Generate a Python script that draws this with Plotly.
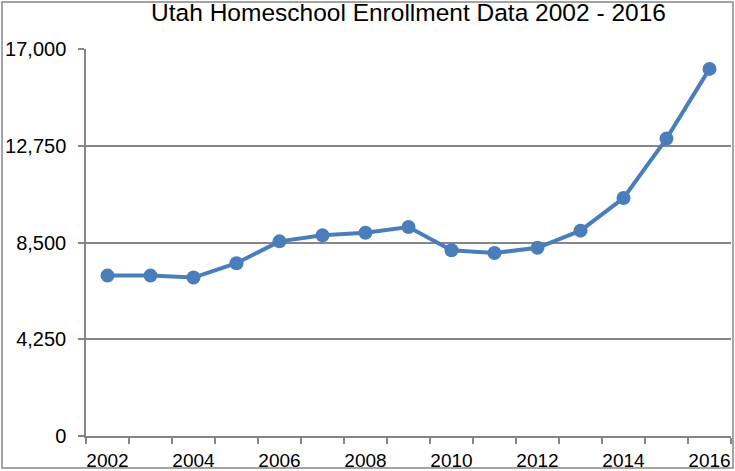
import plotly.graph_objects as go

# Utah homeschool enrollment
years = [2002, 2003, 2004, 2005, 2006, 2007, 2008, 2009,
         2010, 2011, 2012, 2013, 2014, 2015, 2016]
enrollment = [7046, 7046, 6960, 7590, 8550, 8815, 8930, 9180,
              8160, 8040, 8265, 9020, 10455, 13065, 16125]

year_ticks = [2002, 2004, 2006, 2008, 2010, 2012, 2014, 2016]
y_ticks = [0, 4250, 8500, 12750, 17000]

blue = "#4a7ebb"
grey = "#868686"

fig = go.Figure()
fig.add_trace(go.Scatter(
    x=years, y=enrollment,
    mode="lines+markers",
    line=dict(color=blue, width=4),
    marker=dict(color=blue, size=14),
    showlegend=False,
))

fig.update_layout(
    width=735, height=471,
    margin=dict(l=86, r=4, t=49, b=35, autoexpand=False),
    paper_bgcolor="white",
    plot_bgcolor="white",
    font=dict(family="Liberation Sans, Arial", size=18, color="black"),
    title=dict(
        text="Utah Homeschool Enrollment Data 2002 - 2016",
        font=dict(size=24.5, color="black"),
        x=0.5, xref="paper", xanchor="center",
        y=0.973, yref="container", yanchor="middle",
    ),
    xaxis=dict(
        range=[2001.5, 2016.5],
        tickvals=year_ticks,
        ticks="",
        showgrid=False,
        showline=True, linecolor=grey, linewidth=1.5,
        zeroline=False,
        automargin=False,
        minor=dict(ticks="outside", tick0=2001.5, dtick=1,
                   ticklen=6, tickcolor=grey, tickwidth=1.5,
                   showgrid=False),
        tickfont=dict(size=19),
        ticklabelstandoff=6,
    ),
    yaxis=dict(
        range=[0, 17000],
        tickvals=y_ticks,
        tickformat=",",
        ticks="outside", ticklen=6, tickcolor=grey, tickwidth=1.5,
        showgrid=True, gridcolor=grey, gridwidth=1.5,
        showline=True, linecolor=grey, linewidth=1.5,
        zeroline=False,
        automargin=False,
        tickfont=dict(size=20),
        ticklabelstandoff=8,
    ),
    shapes=[dict(
        type="rect", xref="paper", yref="paper",
        x0=(2 - 86) / 645, x1=(733 - 86) / 645,
        y0=(436 - 468) / 387, y1=(436 - 2) / 387,
        line=dict(color=grey, width=1.5),
        fillcolor="rgba(0,0,0,0)",
    )],
)

# drop the page's default body margin so the chart sits at the window's corner
fig.write_html("out.html", config={"displayModeBar": False},
               post_script="document.body.style.margin='0';")
